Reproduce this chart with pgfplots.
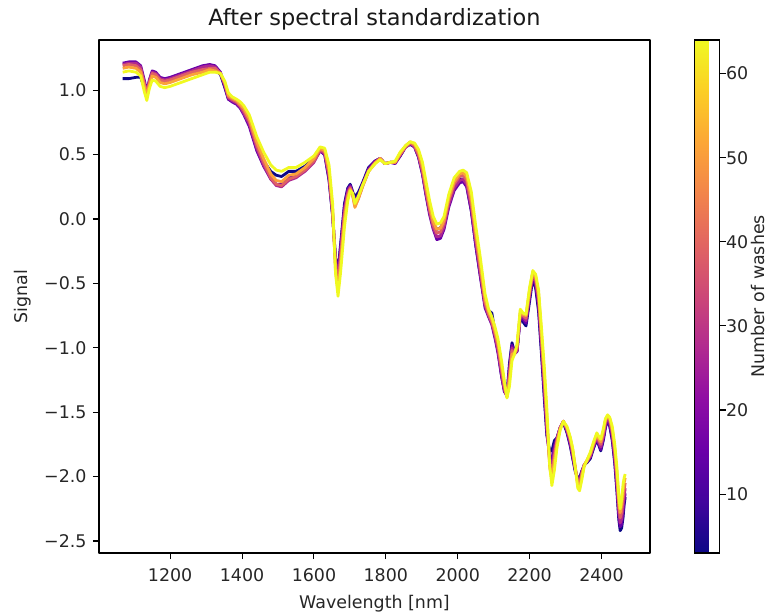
\documentclass[border=0pt]{standalone}
\usepackage{fontspec}
\setmainfont{DejaVu Sans}
\usepackage{pgfplots}
\usepackage{pgfplotstable}
\pgfplotsset{compat=1.18}

% plasma colours of the drawn wash levels (3, 15, 27, 39, 51, 64)
\definecolor{wa}{RGB}{13,8,135}
\definecolor{wb}{RGB}{105,0,168}
\definecolor{wc}{RGB}{175,40,145}
\definecolor{wd}{RGB}{223,97,100}
\definecolor{we}{RGB}{251,162,57}
\definecolor{wf}{RGB}{240,249,33}

\pgfplotstableread{
x a b c d e f
1068 1.09 1.21 1.20 1.19 1.17 1.14
1085 1.09 1.22 1.21 1.20 1.18 1.15
1105 1.10 1.22 1.21 1.19 1.17 1.14
1118 1.10 1.19 1.18 1.16 1.14 1.11
1128 1.02 1.08 1.06 1.05 1.03 0.99
1135 0.97 0.99 0.98 0.97 0.95 0.92
1142 1.06 1.08 1.07 1.06 1.04 1.01
1150 1.13 1.15 1.14 1.13 1.11 1.08
1160 1.12 1.14 1.13 1.12 1.10 1.07
1172 1.08 1.10 1.09 1.08 1.06 1.03
1185 1.07 1.09 1.08 1.07 1.05 1.02
1200 1.08 1.10 1.09 1.08 1.06 1.03
1230 1.11 1.13 1.12 1.11 1.09 1.06
1260 1.14 1.16 1.15 1.14 1.12 1.09
1290 1.16 1.19 1.18 1.16 1.14 1.12
1310 1.18 1.20 1.19 1.17 1.16 1.14
1325 1.17 1.19 1.18 1.17 1.15 1.14
1340 1.12 1.14 1.13 1.13 1.13 1.13
1352 1.02 1.03 1.04 1.05 1.06 1.07
1362 0.93 0.93 0.94 0.95 0.96 0.98
1372 0.92 0.91 0.92 0.93 0.94 0.95
1385 0.90 0.89 0.90 0.91 0.92 0.93
1395 0.87 0.86 0.87 0.88 0.89 0.91
1405 0.82 0.81 0.82 0.84 0.86 0.88
1420 0.74 0.72 0.74 0.76 0.78 0.81
1441 0.56 0.53 0.55 0.57 0.60 0.64
1460 0.45 0.41 0.42 0.44 0.47 0.52
1480 0.37 0.31 0.31 0.32 0.35 0.42
1495 0.34 0.27 0.26 0.27 0.30 0.38
1510 0.33 0.27 0.25 0.26 0.29 0.37
1530 0.37 0.32 0.30 0.31 0.34 0.40
1550 0.37 0.33 0.32 0.33 0.35 0.40
1575 0.41 0.38 0.37 0.38 0.40 0.44
1600 0.47 0.45 0.44 0.45 0.47 0.49
1617 0.53 0.53 0.53 0.54 0.55 0.56
1630 0.50 0.50 0.51 0.52 0.53 0.55
1642 0.30 0.31 0.33 0.35 0.38 0.42
1652 0.02 0.03 0.04 0.05 0.08 0.12
1660 -0.30 -0.30 -0.33 -0.36 -0.40 -0.42
1667 -0.40 -0.42 -0.46 -0.50 -0.55 -0.60
1674 -0.20 -0.22 -0.26 -0.30 -0.36 -0.42
1685 0.12 0.10 0.07 0.04 0.00 -0.06
1694 0.24 0.23 0.21 0.19 0.17 0.14
1701 0.27 0.26 0.25 0.24 0.23 0.22
1708 0.21 0.20 0.19 0.18 0.18 0.20
1714 0.17 0.14 0.12 0.10 0.09 0.12
1724 0.21 0.19 0.17 0.16 0.16 0.18
1735 0.28 0.27 0.26 0.25 0.25 0.26
1752 0.40 0.39 0.38 0.37 0.37 0.37
1770 0.45 0.45 0.44 0.44 0.43 0.43
1784 0.47 0.47 0.47 0.47 0.47 0.46
1798 0.43 0.43 0.43 0.43 0.43 0.43
1812 0.44 0.44 0.44 0.44 0.44 0.44
1826 0.44 0.43 0.44 0.44 0.44 0.45
1840 0.49 0.49 0.50 0.50 0.51 0.52
1855 0.56 0.56 0.56 0.56 0.57 0.57
1868 0.58 0.58 0.59 0.59 0.60 0.60
1880 0.56 0.56 0.56 0.57 0.58 0.59
1891 0.48 0.48 0.49 0.50 0.52 0.54
1902 0.35 0.35 0.36 0.38 0.41 0.44
1912 0.19 0.18 0.20 0.22 0.25 0.29
1922 0.05 0.03 0.05 0.07 0.10 0.14
1932 -0.04 -0.08 -0.07 -0.05 -0.02 0.02
1942 -0.08 -0.16 -0.14 -0.11 -0.08 -0.04
1952 -0.07 -0.15 -0.13 -0.10 -0.07 -0.03
1962 -0.01 -0.08 -0.06 -0.03 -0.01 0.02
1975 0.14 0.09 0.11 0.14 0.16 0.19
1990 0.26 0.22 0.24 0.27 0.29 0.32
2005 0.31 0.28 0.30 0.33 0.35 0.37
2015 0.31 0.29 0.31 0.34 0.36 0.38
2025 0.26 0.25 0.27 0.30 0.33 0.36
2038 0.06 0.06 0.09 0.12 0.16 0.21
2050 -0.20 -0.20 -0.17 -0.14 -0.10 -0.05
2063 -0.44 -0.45 -0.42 -0.39 -0.35 -0.30
2076 -0.66 -0.69 -0.67 -0.65 -0.62 -0.58
2086 -0.71 -0.76 -0.75 -0.74 -0.72 -0.70
2095 -0.73 -0.82 -0.81 -0.80 -0.78 -0.76
2104 -0.88 -0.93 -0.91 -0.89 -0.87 -0.84
2112 -1.02 -1.04 -1.02 -0.99 -0.96 -0.93
2122 -1.22 -1.22 -1.20 -1.17 -1.14 -1.10
2130 -1.34 -1.34 -1.33 -1.31 -1.28 -1.26
2137 -1.36 -1.37 -1.38 -1.38 -1.38 -1.39
2144 -1.12 -1.15 -1.18 -1.21 -1.25 -1.30
2151 -0.96 -0.98 -1.00 -1.02 -1.05 -1.10
2158 -1.03 -1.04 -1.05 -1.05 -1.04 -1.05
2165 -1.03 -1.03 -1.02 -1.01 -0.99 -0.97
2174 -0.76 -0.76 -0.75 -0.74 -0.72 -0.70
2182 -0.80 -0.78 -0.76 -0.75 -0.74 -0.73
2190 -0.83 -0.81 -0.79 -0.77 -0.75 -0.74
2200 -0.64 -0.61 -0.59 -0.57 -0.55 -0.53
2209 -0.46 -0.44 -0.43 -0.42 -0.41 -0.40
2217 -0.54 -0.52 -0.49 -0.47 -0.45 -0.43
2225 -0.72 -0.68 -0.64 -0.61 -0.58 -0.55
2233 -1.05 -1.01 -0.97 -0.93 -0.89 -0.84
2241 -1.40 -1.36 -1.31 -1.26 -1.21 -1.15
2248 -1.68 -1.66 -1.62 -1.58 -1.53 -1.47
2256 -1.80 -1.85 -1.88 -1.90 -1.93 -1.92
2262 -1.80 -1.86 -1.92 -1.97 -2.02 -2.07
2269 -1.72 -1.76 -1.80 -1.84 -1.88 -1.95
2276 -1.70 -1.70 -1.71 -1.72 -1.74 -1.78
2285 -1.62 -1.62 -1.62 -1.62 -1.63 -1.64
2294 -1.58 -1.57 -1.57 -1.57 -1.57 -1.57
2304 -1.66 -1.65 -1.64 -1.63 -1.62 -1.61
2313 -1.76 -1.75 -1.73 -1.71 -1.70 -1.69
2320 -1.86 -1.85 -1.83 -1.81 -1.79 -1.78
2327 -1.96 -1.95 -1.94 -1.93 -1.92 -1.93
2334 -2.01 -2.02 -2.04 -2.05 -2.07 -2.09
2339 -2.01 -2.03 -2.05 -2.07 -2.09 -2.11
2345 -1.96 -1.96 -1.97 -1.98 -2.00 -2.03
2352 -1.91 -1.91 -1.91 -1.91 -1.91 -1.92
2360 -1.89 -1.88 -1.88 -1.88 -1.87 -1.87
2369 -1.86 -1.85 -1.84 -1.83 -1.82 -1.81
2378 -1.78 -1.77 -1.76 -1.75 -1.74 -1.73
2387 -1.71 -1.70 -1.69 -1.68 -1.67 -1.66
2393 -1.76 -1.75 -1.74 -1.72 -1.71 -1.69
2398 -1.80 -1.79 -1.77 -1.75 -1.73 -1.71
2405 -1.72 -1.71 -1.69 -1.67 -1.65 -1.63
2411 -1.62 -1.61 -1.59 -1.57 -1.56 -1.55
2417 -1.56 -1.55 -1.54 -1.53 -1.53 -1.52
2423 -1.61 -1.60 -1.58 -1.56 -1.55 -1.54
2430 -1.72 -1.70 -1.67 -1.65 -1.63 -1.61
2437 -1.90 -1.88 -1.85 -1.81 -1.78 -1.75
2443 -2.12 -2.09 -2.05 -2.01 -1.97 -1.93
2448 -2.33 -2.30 -2.26 -2.22 -2.18 -2.14
2452 -2.42 -2.39 -2.36 -2.32 -2.28 -2.25
2456 -2.40 -2.37 -2.33 -2.28 -2.22 -2.18
2460 -2.32 -2.28 -2.23 -2.17 -2.11 -2.06
2463 -2.22 -2.19 -2.15 -2.10 -2.05 -2.01
2466 -2.16 -2.13 -2.09 -2.05 -2.01 -1.98
}\washdata

\begin{document}
\begin{tikzpicture}
\begin{axis}[
  name=main,
  scale only axis,
  width=551bp, height=513bp,
  xmin=1002, xmax=2535,
  ymin=-2.593, ymax=1.39,
  xtick={1200,1400,1600,1800,2000,2200,2400},
  xticklabels={1200,1400,1600,1800,2000,2200,2400},
  ytick={-2.5,-2,-1.5,-1,-0.5,0,0.5,1},
  yticklabels={−2.5,−2.0,−1.5,−1.0,−0.5,0.0,0.5,1.0},
  xtick pos=bottom, ytick pos=left,
  tick align=outside,
  major tick length=6bp,
  axis line style={line width=1.1bp},
  tick style={line width=1.1bp, black},
  tick label style={font=\fontsize{17.5}{20}\selectfont, text=black!85},
  xticklabel style={yshift=-6bp},
  yticklabel style={xshift=-3bp},
  label style={font=\fontsize{17.5}{20}\selectfont, text=black!85},
  xlabel style={yshift=-7bp},
  ylabel style={yshift=6bp},
  title style={font=\fontsize{22.5}{26}\selectfont, text=black!90},
  title={After spectral standardization},
  xlabel={Wavelength [nm]},
  ylabel={Signal},
  colormap={plasma}{rgb255=(13,8,135) rgb255=(65,4,157) rgb255=(106,0,168)
    rgb255=(143,13,164) rgb255=(177,42,144) rgb255=(204,71,120)
    rgb255=(225,100,98) rgb255=(242,132,75) rgb255=(252,166,54)
    rgb255=(252,206,37) rgb255=(240,249,33)},
  point meta min=3, point meta max=64,
  colorbar,
  colorbar style={
    at={(parent axis.north east)}, anchor=north west, xshift=36bp,
    width=25bp,
    ytick={10,20,30,40,50,60},
    yticklabels={10,20,30,40,50,60},
    ytick pos=right, yticklabel pos=right,
    tick align=outside, major tick length=6bp,
    axis line style={line width=1.1bp},
    tick style={line width=1.1bp, black},
    yticklabel style={font=\fontsize{17.5}{20}\selectfont, text=black!85, xshift=-3bp},
    ylabel={Number of washes},
    ylabel style={font=\fontsize{17.5}{20}\selectfont, text=black!85, yshift=4bp},
  },
  line join=round,
]
\addplot[draw=wa, line width=2.8bp] table[x=x, y=a] {\washdata};
\addplot[draw=wb, line width=2.8bp] table[x=x, y=b] {\washdata};
\addplot[draw=wc, line width=2.8bp] table[x=x, y=c] {\washdata};
\addplot[draw=wd, line width=2.8bp] table[x=x, y=d] {\washdata};
\addplot[draw=we, line width=2.8bp] table[x=x, y=e] {\washdata};
\addplot[draw=wf, line width=2.8bp] table[x=x, y=f] {\washdata};
\end{axis}
\pgfresetboundingbox
\path (main.south west) ++(-99bp,-63bp) rectangle ++(770bp,616bp);
\end{tikzpicture}
\end{document}
